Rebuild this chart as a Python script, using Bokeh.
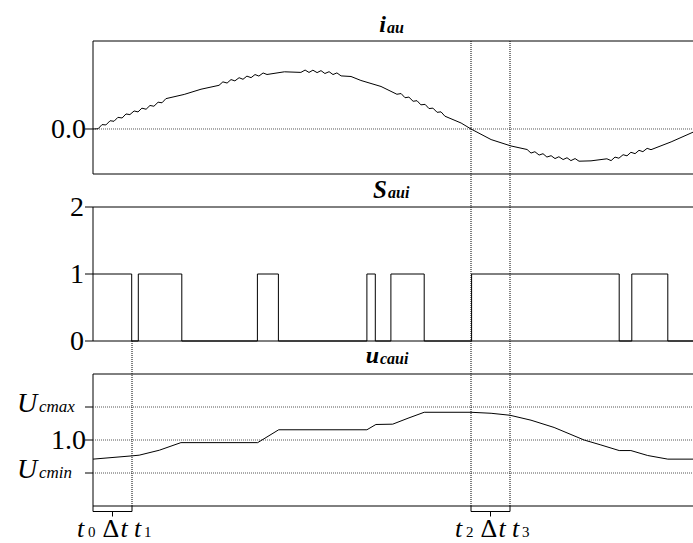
import numpy as np
from bokeh.plotting import figure
from bokeh.models import Range1d
from bokeh.core.properties import value
from bokeh.embed import file_html
from bokeh.resources import INLINE

# ---------------- data (time in ms) ----------------
# phase current i_au (p.u.)
i_t = [0.00, 0.17, 0.30, 0.43, 0.57, 0.70, 0.83, 0.97, 1.10, 1.23, 1.37, 1.50, 1.63, 1.77, 1.90,
       2.03, 2.17, 2.30, 2.43, 3.04, 3.60, 4.20, 4.33, 4.47, 4.60, 4.73, 4.87, 5.00, 5.13, 5.27,
       5.40, 5.53, 5.67, 5.80, 6.38, 6.93, 7.07, 7.20, 7.33, 7.47, 7.60, 7.73, 7.87, 8.00, 8.13,
       8.27, 8.60, 8.93, 9.60, 10.13, 10.27, 10.40, 10.53, 10.67, 10.80, 10.93, 11.07, 11.20, 11.33,
       11.47, 11.60, 11.73, 12.27, 12.60, 13.27, 13.93, 14.47, 14.60, 14.73, 14.87, 15.00, 15.13,
       15.27, 15.40, 15.53, 15.67, 15.80, 15.93, 16.07, 16.20, 16.60, 17.13, 17.27, 17.40, 17.53,
       17.67, 17.80, 17.93, 18.07, 18.20, 18.33, 18.47, 18.60, 19.27, 20.00]
i_v = [0.000, 0.004, 0.075, 0.069, 0.141, 0.132, 0.199, 0.188, 0.257, 0.246, 0.308, 0.292, 0.356,
       0.338, 0.402, 0.389, 0.458, 0.448, 0.519, 0.591, 0.680, 0.747, 0.806, 0.786, 0.845, 0.823,
       0.877, 0.850, 0.904, 0.878, 0.931, 0.905, 0.958, 0.932, 0.978, 0.968, 1.008, 0.967, 1.006,
       0.964, 0.998, 0.949, 0.980, 0.931, 0.959, 0.908, 0.898, 0.830, 0.727, 0.594, 0.606, 0.535,
       0.545, 0.474, 0.484, 0.413, 0.421, 0.349, 0.357, 0.285, 0.293, 0.219, 0.102, 0.000, -0.181,
       -0.290, -0.351, -0.412, -0.389, -0.446, -0.423, -0.480, -0.457, -0.506, -0.475, -0.523,
       -0.492, -0.541, -0.506, -0.551, -0.545, -0.510, -0.541, -0.481, -0.500, -0.440, -0.459,
       -0.399, -0.422, -0.365, -0.388, -0.331, -0.354, -0.221, -0.055]

# switching function S_aui
s_t = [0.0, 1.29, 1.51, 2.96, 5.48, 6.18, 9.13, 9.41, 9.93, 11.04, 12.62, 17.54, 17.96, 19.16, 20.2]
s_v = [1, 0, 1, 0, 1, 0, 1, 0, 1, 0, 1, 0, 1, 0, 0]

# capacitor voltage u_caui (p.u.)
u_t = [0.0, 1.31, 1.54, 2.21, 2.93, 5.49, 6.19, 9.13, 9.43, 9.99, 10.50, 11.04, 12.60, 13.27,
       13.90, 14.60, 15.37, 16.37, 16.93, 17.54, 17.93, 18.49, 19.16, 20.0]
u_v = [0.942, 0.952, 0.954, 0.969, 0.992, 0.992, 1.031, 1.031, 1.047, 1.048, 1.066, 1.084, 1.084,
       1.081, 1.075, 1.060, 1.038, 1.000, 0.985, 0.968, 0.968, 0.953, 0.942, 0.942]

# instants t0..t3
t_marks = [0.0, 1.3, 12.6, 13.9]
t_names = ["0", "1", "2", "3"]

i_ticks = [0.0]
i_tick_labels = ["0.0"]
s_ticks = [0, 1, 2]
s_tick_labels = ["0", "1", "2"]
u_ticks = [1.0]
u_tick_labels = ["1.0"]
u_limits = [0.9, 1.1]          # Ucmin, Ucmax
u_limit_subs = ["cmin", "cmax"]

# ---------------- layout ----------------
W, H = 693, 543
PX_LEFT = 92.5
PX_PER_MS = 30.0
T_BOX_END = 20.3
FONT = "Liberation Serif"
DOT = "1 1"
K_MID = 0.34   # baseline sits this many ems below a 'middle' anchor

panels = {
    "i": dict(lo=-0.77, hi=1.505, top=40.5, bottom=173.5),
    "s": dict(lo=0.0, hi=2.0, top=206.5, bottom=340.5),
    "u": dict(lo=0.8, hi=1.2, top=373.5, bottom=505.5),
}


def band(lo, hi, top, bottom):
    s = (bottom - top) / (hi - lo)
    return Range1d(start=lo - (H - bottom) / s, end=hi + top / s)


p = figure(width=W, height=H,
           x_range=Range1d(-PX_LEFT / PX_PER_MS, (W - PX_LEFT) / PX_PER_MS),
           y_range=Range1d(H, 0),
           x_axis_type=None, y_axis_type=None,
           toolbar_location=None, output_backend="svg",
           min_border=0, outline_line_color=None,
           background_fill_color="white", border_fill_color="white")
p.extra_y_ranges = {k: band(**v) for k, v in panels.items()}


def label(x, y, txt, size, style="normal", align="left", xo=0, base=0, rng="default"):
    """base: wanted baseline offset (px, downward) from the anchor y."""
    p.text(x=[x], y=[y], text=[txt], text_font=value(FONT), text_font_size=value(f"{size}px"),
           text_font_style=style, text_align=align, text_baseline="middle",
           x_offset=xo, y_offset=base - K_MID * size, text_color="black", y_range_name=rng)


def tick_label(y, txt, xo, rng):
    p.text(x=[0], y=[y], text=[txt], text_font=value(FONT), text_font_size=value("28px"),
           text_align="right", text_baseline="middle", x_offset=xo, text_color="black",
           y_range_name=rng)


# panel frames
for k, v in panels.items():
    p.quad(left=[0], right=[T_BOX_END], bottom=[v["lo"]], top=[v["hi"]],
           fill_color=None, line_color="black", line_width=1, y_range_name=k)

# reference dotted lines
for y in i_ticks:
    p.line([0, T_BOX_END], [y, y], line_color="#555555", line_dash=DOT, y_range_name="i")
for y in u_ticks + u_limits:
    p.line([0, T_BOX_END], [y, y], line_color="#555555", line_dash=DOT, y_range_name="u")

# traces
p.line(i_t, i_v, line_color="black", line_width=1, y_range_name="i")
p.step(s_t, s_v, mode="after", line_color="black", line_width=1, y_range_name="s")
p.line(u_t, u_v, line_color="black", line_width=1, y_range_name="u")

# cursor lines
t0, t1, t2, t3 = t_marks
pi_, ps_, pu_ = panels["i"], panels["s"], panels["u"]
p.segment(x0=[t1, t2, t3], y0=[ps_["bottom"], pi_["top"], pi_["top"]],
          x1=[t1, t2, t3], y1=[pu_["bottom"]] * 3,
          line_color="black", line_dash=DOT, line_width=1)

# ticks and tick labels
for rng, ticks in (("i", i_ticks), ("s", s_ticks), ("u", u_ticks + u_limits)):
    p.ray(x=[0] * len(ticks), y=ticks, length=8, length_units="screen", angle=np.pi,
          line_color="black", y_range_name=rng)
for y, t in zip(i_ticks, i_tick_labels):
    tick_label(y, t, -7, "i")
for y, t in zip(s_ticks, s_tick_labels):
    tick_label(y, t, -9, "s")
for y, t in zip(u_ticks, u_tick_labels):
    tick_label(y, t, -7, "u")
for y, sub in zip(u_limits, u_limit_subs):
    label(0, y, "U", 28, style="italic", xo=-76, base=5, rng="u")
    label(0, y, sub, 17, style="italic", xo=-54, base=5, rng="u")

# panel titles
tmid = T_BOX_END / 2 - 0.15
for rng, main, sub, size, xo, yo in (("i", "i", "au", 24, -7, -8.5),
                                     ("s", "S", "aui", 25, -6, -9.5),
                                     ("u", "u", "caui", 24, -14, -10.5)):
    hi = panels[rng]["hi"]
    label(tmid, hi, main, size, style="bold italic", align="right", xo=xo, base=yo, rng=rng)
    label(tmid, hi, sub, 16, style="bold italic", align="left", xo=xo + 1, base=yo, rng=rng)

# Δt brackets below the bottom panel
ub = pu_["bottom"]
brk = ub + 5.5
for a, b, na, nb in ((t0, t1, t_names[0], t_names[1]), (t2, t3, t_names[2], t_names[3])):
    mid = (a + b) / 2
    p.multi_line(xs=[[a, a, b, b], [mid, mid]], ys=[[ub, brk, brk, ub], [brk, brk + 5]],
                 line_color="black", line_width=1)
    base = ub + 31.5
    label(a, base, "t", 26, style="italic", xo=-16)
    label(a, base, na, 15, xo=-5)
    label(mid, base, "Δ", 26, xo=-10)
    label(mid, base, "t", 26, style="italic", xo=8)
    label(b, base, "t", 26, style="italic", xo=2)
    label(b, base, nb, 15, xo=12)

open("out.html", "w").write(file_html(p, INLINE))
